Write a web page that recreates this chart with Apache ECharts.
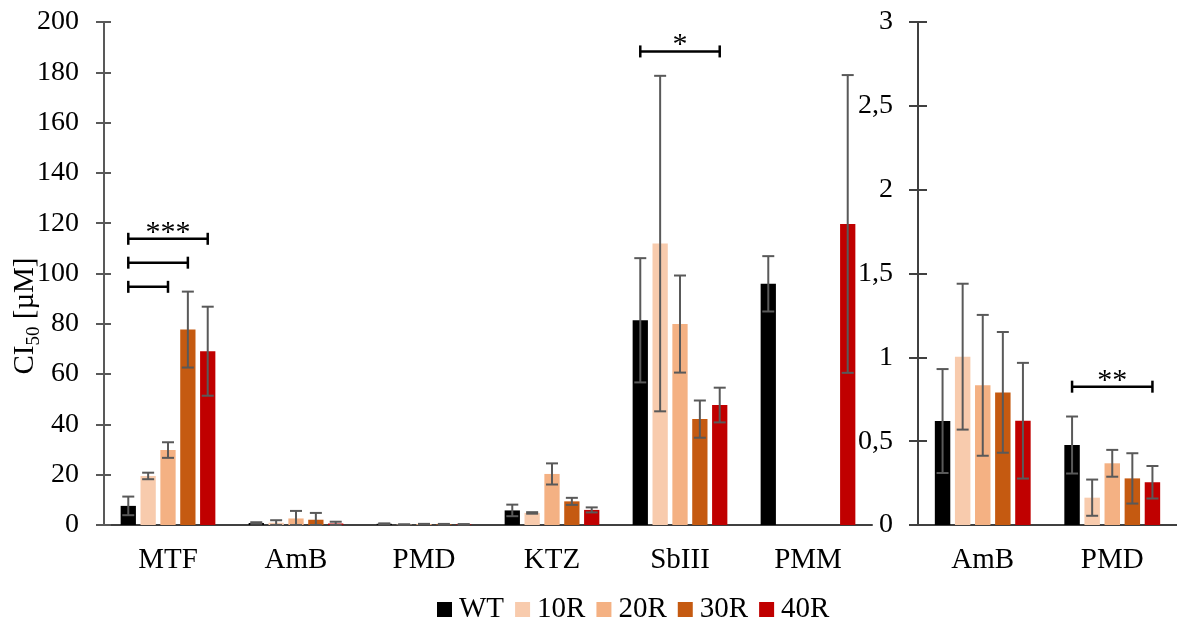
<!DOCTYPE html>
<html>
<head>
<meta charset="utf-8">
<script src="https://cdn.jsdelivr.net/npm/echarts@6/dist/echarts.min.js"></script>
<style>html,body{margin:0;padding:0;background:#fff}#c{width:1177px;height:624px}</style>
</head>
<body>
<div id="c"></div>
<script>
// ---------- data ----------
const categoriesLeft = ['MTF', 'AmB', 'PMD', 'KTZ', 'SbIII', 'PMM'];
const categoriesRight = ['AmB', 'PMD'];
const seriesNames = ['WT', '10R', '20R', '30R', '40R'];

const wtLeft  = [7.6, 0.8, 0.48, 5.8, 81.4, 95.9];
const r10Left = [19.5, 0.9, 0.17, 4.8, 111.9, null];
const r20Left = [29.8, 2.6, 0.37, 20.3, 79.9, null];
const r30Left = [77.7, 2.1, 0.28, 9.4, 42.1, null];
const r40Left = [69.1, 0.6, 0.25, 6.0, 47.7, 119.7];

const wtLeftErr  = [3.7, 0.3, 0.17, 2.3, 24.7, 11.0];
const r10LeftErr = [1.3, 1.0, 0.11, 0.3, 66.7, null];
const r20LeftErr = [3.1, 3.0, 0.08, 4.2, 19.3, null];
const r30LeftErr = [15.1, 2.7, 0.15, 1.4, 7.4, null];
const r40LeftErr = [17.7, 0.7, 0.10, 1.0, 6.9, 59.2];

const wtRight  = [0.62, 0.477];
const r10Right = [1.004, 0.163];
const r20Right = [0.833, 0.368];
const r30Right = [0.791, 0.278];
const r40Right = [0.622, 0.255];

const wtRightErr  = [0.31, 0.17];
const r10RightErr = [0.435, 0.108];
const r20RightErr = [0.42, 0.08];
const r30RightErr = [0.36, 0.15];
const r40RightErr = [0.345, 0.097];

const leftTicks = [0, 20, 40, 60, 80, 100, 120, 140, 160, 180, 200];
const rightTicks = ['0', '0,5', '1', '1,5', '2', '2,5', '3'];

// significance brackets: [category index, from bar, to bar, value, label]
const leftBrackets = [
  [0, 0, 4, 113.8, '***'],
  [0, 0, 3, 104.3, ''],
  [0, 0, 2, 94.7, ''],
  [4, 0, 4, 188.3, '*']
];
const rightBrackets = [
  [1, 0, 4, 0.825, '**']
];

// ---------- styling ----------
const colors = ['#000000', '#F8CBAD', '#F4B183', '#C55A11', '#C00000'];
const FONT = 'Liberation Serif';
const CAT_GAP = 0.26, BAR_GAP = 0.3;

const leftVals = [wtLeft, r10Left, r20Left, r30Left, r40Left];
const leftErrs = [wtLeftErr, r10LeftErr, r20LeftErr, r30LeftErr, r40LeftErr];
const rightVals = [wtRight, r10Right, r20Right, r30Right, r40Right];
const rightErrs = [wtRightErr, r10RightErr, r20RightErr, r30RightErr, r40RightErr];

function barOffset(api, pos) {
  const band = api.size([1, 0])[0];
  const bw = band * (1 - CAT_GAP) / (5 + 4 * BAR_GAP);
  return (pos - 2) * bw * (1 + BAR_GAP);
}

function errRender(pos) {
  return function (params, api) {
    const cat = api.value(0), v = api.value(1), e = api.value(2);
    if (isNaN(v) || isNaN(e)) return;
    const c = api.coord([cat, v]);
    const x = c[0] + barOffset(api, pos);
    const top = api.coord([cat, v + e])[1];
    const bot = api.coord([cat, Math.max(v - e, 0)])[1];
    const cap = 6;
    const st = { stroke: '#595959', lineWidth: 2 };
    return {
      type: 'group',
      children: [
        { type: 'line', shape: { x1: x, y1: top, x2: x, y2: bot }, style: st },
        { type: 'line', shape: { x1: x - cap, y1: top, x2: x + cap, y2: top }, style: st },
        { type: 'line', shape: { x1: x - cap, y1: bot, x2: x + cap, y2: bot }, style: st }
      ]
    };
  };
}

function bracketRender(labels) {
  return function (params, api) {
    const cat = api.value(0), from = api.value(1), to = api.value(2), v = api.value(3);
    const c = api.coord([cat, v]);
    const x1 = c[0] + barOffset(api, from);
    const x2 = c[0] + barOffset(api, to);
    const y = c[1];
    const st = { stroke: '#000', lineWidth: 2.5 };
    const ch = [
      { type: 'line', shape: { x1: x1, y1: y, x2: x2, y2: y }, style: st },
      { type: 'line', shape: { x1: x1, y1: y - 6, x2: x1, y2: y + 6 }, style: st },
      { type: 'line', shape: { x1: x2, y1: y - 6, x2: x2, y2: y + 6 }, style: st }
    ];
    const lab = labels[params.dataIndex];
    if (lab) {
      ch.push({ type: 'text', x: (x1 + x2) / 2, y: y + 9,
        style: { text: lab, font: '30px "' + FONT + '"', fill: '#000', align: 'center', verticalAlign: 'bottom' } });
    }
    return { type: 'group', children: ch };
  };
}

const series = [];
seriesNames.forEach((n, i) => {
  series.push({
    name: n, type: 'bar', xAxisIndex: 0, yAxisIndex: 0,
    data: leftVals[i], itemStyle: { color: colors[i] },
    barGap: (BAR_GAP * 100) + '%', barCategoryGap: (CAT_GAP * 100) + '%', z: 2
  });
  series.push({
    name: n, type: 'bar', xAxisIndex: 1, yAxisIndex: 2,
    data: rightVals[i], itemStyle: { color: colors[i] },
    barGap: (BAR_GAP * 100) + '%', barCategoryGap: (CAT_GAP * 100) + '%', z: 2
  });
});
seriesNames.forEach((n, i) => {
  series.push({
    name: n + ' err', type: 'custom', xAxisIndex: 0, yAxisIndex: 0, z: 5,
    renderItem: errRender(i),
    data: leftVals[i].map((v, k) => [k, v == null ? NaN : v, leftErrs[i][k] == null ? NaN : leftErrs[i][k]]),
    encode: { x: 0, y: 1 }, silent: true
  });
  series.push({
    name: n + ' err', type: 'custom', xAxisIndex: 1, yAxisIndex: 2, z: 5,
    renderItem: errRender(i),
    data: rightVals[i].map((v, k) => [k, v, rightErrs[i][k]]),
    encode: { x: 0, y: 1 }, silent: true
  });
});
series.push({
  name: 'brackets L', type: 'custom', xAxisIndex: 0, yAxisIndex: 0, z: 6,
  renderItem: bracketRender(leftBrackets.map(b => b[4])),
  data: leftBrackets.map(b => [b[0], b[1], b[2], b[3]]),
  encode: { x: 0, y: 3 }, silent: true
});
series.push({
  name: 'brackets R', type: 'custom', xAxisIndex: 1, yAxisIndex: 2, z: 6,
  renderItem: bracketRender(rightBrackets.map(b => b[4])),
  data: rightBrackets.map(b => [b[0], b[1], b[2], b[3]]),
  encode: { x: 0, y: 3 }, silent: true
});

const axisColor = '#595959';
const labelStyle = { fontFamily: FONT, fontSize: 28, color: '#000' };
const catLabelStyle = { fontFamily: FONT, fontSize: 29, color: '#000' };

const option = {
  animation: false,
  backgroundColor: '#fff',
  grid: [
    { left: 104, right: 305, top: 22, bottom: 99 },
    { left: 918, right: 0, top: 22, bottom: 99 }
  ],
  legend: {
    data: seriesNames,
    left: 432, top: 590,
    icon: 'rect', itemWidth: 15, itemHeight: 15, itemGap: 11,
    textStyle: { fontFamily: FONT, fontSize: 29, color: '#000', padding: [0, 0, 0, 2] }
  },
  xAxis: [
    { type: 'category', gridIndex: 0, data: categoriesLeft,
      axisLine: { lineStyle: { color: '#404040', width: 2 } }, axisTick: { show: false },
      axisLabel: Object.assign({ margin: 21 }, catLabelStyle) },
    { type: 'category', gridIndex: 1, data: categoriesRight,
      axisLine: { lineStyle: { color: '#404040', width: 2 } }, axisTick: { show: false },
      axisLabel: Object.assign({ margin: 21 }, catLabelStyle) }
  ],
  yAxis: [
    { type: 'value', gridIndex: 0, min: 0, max: 200, interval: 20,
      axisLine: { show: true, lineStyle: { color: axisColor, width: 2 } },
      axisTick: { show: true, length: 8, lineStyle: { color: axisColor, width: 2 } },
      splitLine: { show: false },
      axisLabel: Object.assign({ margin: 25, formatter: v => String(leftTicks[Math.round(v / 20)]) }, labelStyle) },
    { type: 'value', gridIndex: 0, min: 0, max: 200, interval: 20, position: 'left',
      axisLine: { show: false }, axisLabel: { show: false }, splitLine: { show: false },
      axisTick: { show: true, inside: true, length: 7, lineStyle: { color: axisColor, width: 2 } } },
    { type: 'value', gridIndex: 1, min: 0, max: 3, interval: 0.5,
      axisLine: { show: true, lineStyle: { color: '#404040', width: 2 } },
      axisTick: { show: true, length: 9, lineStyle: { color: '#404040', width: 2 } },
      splitLine: { show: false },
      axisLabel: Object.assign({ margin: 25, formatter: v => rightTicks[Math.round(v / 0.5)] }, labelStyle) },
    { type: 'value', gridIndex: 1, min: 0, max: 3, interval: 0.5, position: 'left',
      axisLine: { show: false }, axisLabel: { show: false }, splitLine: { show: false },
      axisTick: { show: true, inside: true, length: 9, lineStyle: { color: '#404040', width: 2 } } }
  ],
  graphic: [{
    type: 'text', x: 25, y: 316, rotation: Math.PI / 2,
    style: {
      text: 'CI{sub|50} [µM]',
      font: '29px "' + FONT + '"', fill: '#000', align: 'center', verticalAlign: 'middle',
      rich: { sub: { fontFamily: FONT, fontSize: 19, padding: [18, 0, 0, 0], fill: '#000' } }
    }
  }],
  series: series
};

const chart = echarts.init(document.getElementById('c'), null, { renderer: 'canvas' });
chart.setOption(option);
</script>
</body>
</html>
